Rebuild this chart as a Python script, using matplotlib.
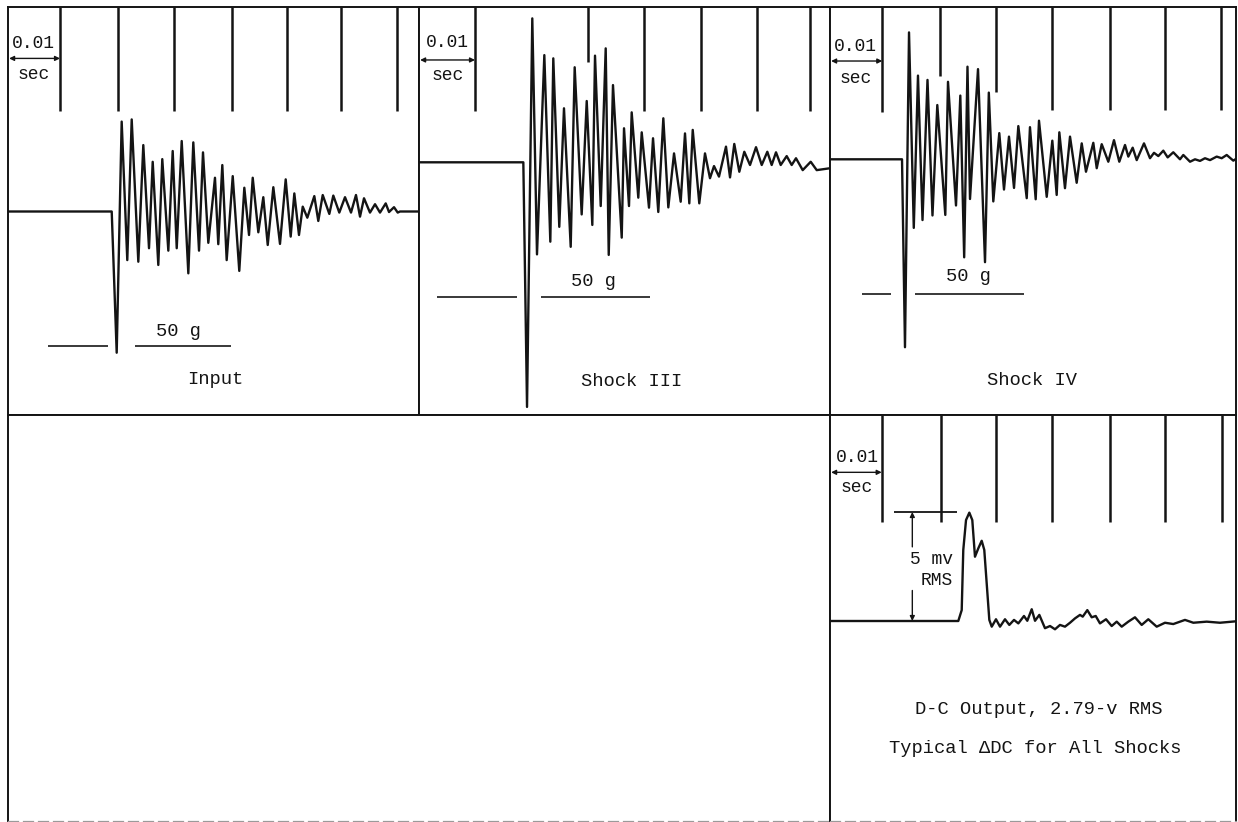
import matplotlib
matplotlib.use('Agg')
import matplotlib.pyplot as plt

plt.rcParams['font.family'] = ['Liberation Mono', 'DejaVu Sans Mono']
plt.rcParams['font.size'] = 13.5

# ---- Input accelerometer trace: time (ms), acceleration (g)
input_t = [0, 18.52, 19.41, 20.30, 21.30, 22.09, 23.27, 24.16, 25.18, 25.84, 26.84,
           27.55, 28.63, 29.41, 30.13, 31.02, 32.20, 33.09, 34.11, 34.82, 35.77,
           36.96, 37.55, 38.27, 39.05, 40.13, 41.30, 42.20, 43.04, 43.70, 44.70,
           45.59, 46.38, 47.38, 48.57, 49.59, 50.48, 51.13, 51.96, 52.63, 53.45,
           54.70, 55.41, 56.20, 57.38, 58.09, 59.16, 60.18, 61.25, 62.14, 62.86,
           63.57, 64.64, 65.54, 66.43, 67.45, 68.04, 68.93, 69.59, 70.0, 73.4]
input_g = [0, 0, -52.3, 33.3, -18.0, 34.1, -18.6, 24.6, -13.6, 18.4, -19.8,
           19.4, -14.5, 22.4, -13.6, 26.1, -22.9, 25.6, -14.5, 21.9, -11.6,
           12.5, -12.1, 17.2, -18.0, 13.1, -22.0, 8.8, -8.7, 12.5, -7.7,
           5.3, -12.4, 9.0, -12.0, 11.9, -9.3, 6.7, -8.7, 1.8, -2.3,
           5.7, -3.5, 6.1, -0.9, 5.9, -0.4, 5.3, -0.4, 6.1, -1.9,
           4.9, -0.4, 2.7, -0.4, 3.0, -0.2, 1.6, -0.4, 0, 0]
input_marks_t = [9.29, 19.64, 29.64, 40.0, 49.82, 59.46, 69.46]
input_marks_end = [37.2, 37.2, 37.2, 37.2, 37.2, 37.2, 37.2]
input_ref_start = [7.2, 22.7]
input_ref_end = [17.9, 39.8]

# ---- Shock III
shock3_t = [0, 18.63, 19.29, 20.23, 21.07, 22.38, 23.45, 23.98, 25.05, 25.89, 27.09,
            27.80, 29.05, 29.95, 30.95, 31.43, 32.45, 33.34, 33.88, 34.64, 36.20,
            36.61, 37.50, 37.98, 39.16, 39.77, 41.07, 41.79, 42.73, 43.63, 44.52,
            45.54, 46.73, 47.50, 48.27, 48.88, 50.05, 51.07, 51.96, 52.68, 53.57,
            54.82, 55.54, 56.30, 57.20, 58.09, 59.11, 60.18, 61.20, 62.20, 62.98,
            63.75, 64.59, 65.66, 66.55, 67.32, 68.52, 69.95, 71.02, 73.39]
shock3_g = [0, 0, -90.6, 53.3, -34.1, 39.7, -29.4, 38.5, -23.9, 20.0, -31.3,
            35.2, -19.3, 22.7, -23.2, 39.5, -16.2, 42.2, -34.3, 28.6, -27.9,
            12.6, -16.2, 18.5, -13.1, 11.1, -16.8, 8.9, -18.4, 16.3, -16.7,
            3.3, -14.6, 10.7, -15.2, 12.0, -15.2, 3.3, -5.9, -1.4, -5.3,
            5.8, -5.6, 6.8, -3.5, 3.9, -1.0, 5.6, -1.0, 3.9, -1.0,
            3.7, -1.0, 2.3, -1.0, 1.5, -2.9, 0.2, -2.9, -2.2]
shock3_marks_t = [10.0, 30.23, 40.13, 50.36, 60.41, 69.82]
shock3_marks_end = [19.0, 37.3, 19.0, 19.0, 19.0, 19.0]
shock3_ref_start = [3.16, 21.79]
shock3_ref_end = [17.45, 41.25]

# ---- Shock IV
shock4_t = [0, 12.86, 13.39, 14.11, 14.96, 15.71, 16.52, 17.41, 18.30, 19.16, 20.59,
            21.07, 22.50, 23.27, 23.96, 24.55, 25.00, 26.43, 27.68, 28.36, 29.16,
            30.23, 31.07, 31.96, 32.86, 33.63, 35.13, 35.71, 36.73, 37.32, 38.70,
            39.70, 40.48, 40.95, 41.96, 42.86, 44.05, 44.95, 45.71, 47.02, 47.63,
            48.52, 49.70, 50.71, 51.66, 52.68, 53.27, 54.05, 54.77, 56.07, 57.14,
            57.86, 58.63, 59.52, 60.30, 61.30, 62.50, 63.09, 64.29, 65.18, 66.07,
            66.96, 67.86, 69.05, 69.95, 70.84, 72.02, 72.68]
shock4_g = [0, 0, -69.6, 47.0, -25.4, 31.0, -22.5, 29.4, -20.8, 20.1, -20.6,
            28.7, -17.1, 23.6, -36.3, 34.3, -14.7, 33.4, -38.1, 24.7, -15.6,
            9.7, -11.2, 8.4, -10.6, 12.3, -14.4, 11.9, -14.8, 14.3, -13.9,
            6.9, -13.2, 10.0, -10.7, 8.4, -8.7, 5.9, -4.6, 6.1, -3.3,
            5.6, -0.9, 7.1, -0.9, 5.3, 1.0, 4.3, -0.3, 5.9, 0.4,
            2.4, 1.2, 3.2, 0.7, 2.6, 0, 1.6, -0.9, 0, -0.6,
            0.4, -0.3, 1.0, 0.4, 1.6, -0.5, 0.4]
shock4_marks_t = [9.34, 19.64, 29.59, 39.64, 50.05, 59.77, 69.82]
shock4_marks_end = [17.5, 30.9, 25.0, 18.3, 18.3, 18.3, 18.3]
shock4_ref_start = [5.66, 15.18]
shock4_ref_end = [10.89, 34.64]

# ---- D-C output: time (ms), output change (mV RMS)
dc_t = [0, 22.91, 23.52, 23.80, 24.29, 24.88, 25.41, 25.89, 26.48, 27.09, 27.55,
        27.98, 28.45, 28.88, 29.64, 30.36, 31.25, 32.02, 32.86, 33.63, 34.64,
        35.23, 36.02, 36.61, 37.38, 38.39, 39.29, 40.18, 41.07, 41.96, 42.86,
        43.75, 44.64, 45.13, 45.95, 46.73, 47.45, 48.21, 49.29, 50.30, 51.20,
        52.09, 53.27, 54.46, 55.66, 56.84, 58.34, 59.82, 61.30, 63.39, 64.88,
        67.27, 69.64, 72.68]
dc_mv = [0, 0, 0.50, 3.26, 4.63, 4.97, 4.63, 2.95, 3.33, 3.68, 3.26,
         1.73, 0.05, -0.26, 0.08, -0.26, 0.08, -0.18, 0.05, -0.11, 0.23,
         0.01, 0.54, 0.01, 0.28, -0.33, -0.23, -0.38, -0.18, -0.26, -0.08,
         0.12, 0.28, 0.20, 0.50, 0.17, 0.23, -0.11, 0.08, -0.23, -0.03,
         -0.26, -0.03, 0.17, -0.18, 0.08, -0.26, -0.08, -0.14, 0.05, -0.08,
         -0.03, -0.08, -0.01]
dc_marks_t = [9.23, 19.77, 29.64, 39.59, 50.05, 59.82, 69.95]
dc_marks_end = [4.55, 4.55, 4.55, 4.55, 4.55, 4.55, 4.55]
dc_scale_mv = 5.0

REF_LEVEL_G = -50
PX_PER_MS = 5.6
PX_PER_G = 2.7
PX_PER_MV = 21.8
FIG_W, FIG_H = 1238, 822
INK = '#141414'


def add_panel(fig, x0, y0, x1, y1, base_row, px_per_unit, faint_bottom=False):
    ax = fig.add_axes([x0 / FIG_W, 1 - y1 / FIG_H, (x1 - x0) / FIG_W, (y1 - y0) / FIG_H])
    ax.set_xlim(0, (x1 - x0) / PX_PER_MS)
    ax.set_ylim(-(y1 - base_row) / px_per_unit, (base_row - y0) / px_per_unit)
    ax.set_xticks([])
    ax.set_yticks([])
    for s in ax.spines.values():
        s.set_linewidth(1.4)
        s.set_color(INK)
    if faint_bottom:
        # sheet edge printed only faintly
        ax.spines['bottom'].set_color('#9a9a9a')
        ax.spines['bottom'].set_linewidth(0.9)
        ax.spines['bottom'].set_linestyle((0, (8, 4)))
    return ax


def draw_timing(ax, marks_t, marks_end, arrow_y, text_t, text_y, sec_y):
    top = ax.get_ylim()[1]
    ax.vlines(marks_t, marks_end, top, color=INK, lw=1.8)
    ax.annotate('', xy=(marks_t[0], arrow_y), xytext=(0.2, arrow_y),
                arrowprops=dict(arrowstyle='<|-|>', lw=1.0, color=INK,
                                mutation_scale=7, shrinkA=0, shrinkB=0))
    ax.text(text_t, text_y, '0.01', ha='center', va='center', fontsize=13, color=INK)
    ax.text(text_t, sec_y, 'sec', ha='center', va='center', fontsize=13, color=INK)


def draw_shock(ax, t, g, marks_t, marks_end, ref_start, ref_end, label,
               label_t, label_g, g50_t, g50_g, timing_pos):
    ax.plot(t, g, color=INK, lw=1.7)
    ax.hlines([REF_LEVEL_G] * len(ref_start), ref_start, ref_end, color='#2a2a2a', lw=1.3)
    ax.text(g50_t, g50_g, '50 g', ha='center', va='center', color=INK)
    ax.text(label_t, label_g, label, ha='center', va='center', color=INK)
    draw_timing(ax, marks_t, marks_end, *timing_pos)


fig = plt.figure(figsize=(FIG_W / 100, FIG_H / 100), dpi=100)

ax_in = add_panel(fig, 8, 7, 419, 415, 211.5, PX_PER_G)
draw_shock(ax_in, input_t, input_g, input_marks_t, input_marks_end,
           input_ref_start, input_ref_end, 'Input', 37.0, -62.4, 30.4, -44.6,
           (56.7, 4.5, 62.3, 50.6))

ax_s3 = add_panel(fig, 419, 7, 830, 415, 162.3, PX_PER_G)
draw_shock(ax_s3, shock3_t, shock3_g, shock3_marks_t, shock3_marks_end,
           shock3_ref_start, shock3_ref_end, 'Shock III', 37.9, -81.3, 31.1, -44.2,
           (37.9, 5.1, 44.2, 32.0))

ax_s4 = add_panel(fig, 830, 7, 1236, 415, 159.3, PX_PER_G)
draw_shock(ax_s4, shock4_t, shock4_g, shock4_marks_t, shock4_marks_end,
           shock4_ref_start, shock4_ref_end, 'Shock IV', 36.0, -82.1, 24.8, -43.5,
           (36.4, 4.5, 41.7, 30.1))

# empty lower-left cell of the record sheet
add_panel(fig, 8, 415, 830, 821, 618, PX_PER_MV, faint_bottom=True)

ax_dc = add_panel(fig, 830, 415, 1236, 821, 621, PX_PER_MV, faint_bottom=True)
ax_dc.plot(dc_t, dc_mv, color=INK, lw=1.7)
draw_timing(ax_dc, dc_marks_t, dc_marks_end, 6.82, 4.8, 7.49, 6.11)

# 5 mv RMS calibration bracket
ax_dc.hlines(dc_scale_mv, 11.4, 22.6, color=INK, lw=1.3)
ax_dc.annotate('', xy=(14.7, dc_scale_mv), xytext=(14.7, 3.4),
               arrowprops=dict(arrowstyle='-|>', lw=1.0, color=INK,
                               mutation_scale=7, shrinkA=0, shrinkB=0))
ax_dc.annotate('', xy=(14.7, 0), xytext=(14.7, 1.4),
               arrowprops=dict(arrowstyle='-|>', lw=1.0, color=INK,
                               mutation_scale=7, shrinkA=0, shrinkB=0))
ax_dc.text(22.0, 2.8, '5 mv', ha='right', va='center', fontsize=13, color=INK)
ax_dc.text(22.0, 1.85, 'RMS', ha='right', va='center', fontsize=13, color=INK)

ax_dc.text(37.2, -4.08, 'D-C Output, 2.79-v RMS', ha='center', va='center', color=INK)
ax_dc.text(36.6, -5.84, 'Typical \u0394DC for All Shocks', ha='center', va='center',
           color=INK)

fig.savefig('out.png', dpi=100, facecolor='white')
